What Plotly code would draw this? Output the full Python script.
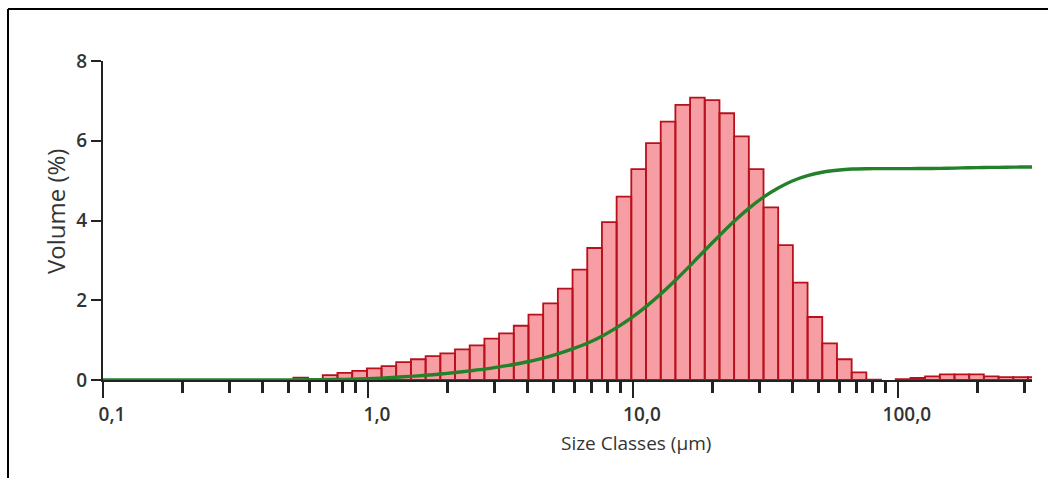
import plotly.graph_objects as go

# Size class edges (µm), log-spaced classes
class_edges = [0.460, 0.523, 0.594, 0.675, 0.767, 0.872, 0.991, 1.125, 1.278, 1.452,
               1.650, 1.875, 2.130, 2.420, 2.750, 3.124, 3.550, 4.034, 4.583, 5.207,
               5.916, 6.722, 7.637, 8.677, 9.858, 11.20, 12.73, 14.46, 16.43, 18.66,
               21.21, 24.09, 27.37, 31.10, 35.33, 40.14, 45.60, 51.82, 58.88, 66.89,
               76.00, 86.35, 98.10, 111.5, 126.6, 143.9, 163.5, 185.8, 211.0, 239.8,
               272.4, 309.6, 351.7]

# Volume (%) in each class (class i spans class_edges[i]..class_edges[i+1])
volume_pct = [0.00, 0.06, 0.02, 0.12, 0.18, 0.23, 0.29, 0.35, 0.45, 0.52,
              0.60, 0.67, 0.77, 0.87, 1.04, 1.17, 1.36, 1.64, 1.92, 2.29,
              2.77, 3.31, 3.96, 4.60, 5.29, 5.94, 6.48, 6.90, 7.08, 7.02,
              6.69, 6.11, 5.29, 4.33, 3.38, 2.44, 1.58, 0.92, 0.52, 0.19,
              0.01, 0.00, 0.02, 0.05, 0.09, 0.14, 0.14, 0.14, 0.09, 0.07,
              0.07, 0.07]

# Cumulative undersize (%) curve, read at sizes
cum_sizes = [0.1, 0.523, 0.594, 0.675, 0.767, 0.872, 0.991, 1.125, 1.278, 1.452,
             1.650, 1.875, 2.130, 2.420, 2.750, 3.124, 3.550, 4.034, 4.583, 5.207,
             5.916, 6.722, 7.637, 8.677, 9.858, 11.20, 12.73, 14.46, 16.43, 18.66,
             21.21, 24.09, 27.37, 31.10, 35.33, 40.14, 45.60, 51.82, 58.88, 66.89,
             76.00, 86.35, 98.10, 111.5, 126.6, 143.9, 163.5, 185.8, 211.0, 239.8,
             272.4, 309.6, 351.7]
cum_pct = [0.0, 0.0, 0.1, 0.1, 0.2, 0.4, 0.6, 0.9, 1.3, 1.7,
           2.2, 2.8, 3.5, 4.3, 5.1, 6.2, 7.3, 8.7, 10.3, 12.3,
           14.6, 17.3, 20.6, 24.6, 29.2, 34.5, 40.4, 46.9, 53.8, 60.9,
           67.9, 74.6, 80.7, 86.0, 90.3, 93.7, 96.1, 97.7, 98.6, 99.2,
           99.35, 99.4, 99.4, 99.4, 99.45, 99.5, 99.65, 99.8, 99.95, 100.0,
           100.1, 100.15, 100.2]

x_tickvals = [0.1, 1, 10, 100]
x_ticktext = ["0,1", "1,0", "10,0", "100,0"]
x_minor = [0.2, 0.3, 0.4, 0.5, 0.6, 0.7, 0.8, 0.9,
           2, 3, 4, 5, 6, 7, 8, 9,
           20, 30, 40, 50, 60, 70, 80, 90, 200, 300]
y_tickvals = [0, 2, 4, 6, 8]

# Build bar rectangles from class edges and values
bx, by = [], []
for i, v in enumerate(volume_pct):
    if v <= 0:
        continue
    lo, hi = class_edges[i], class_edges[i + 1]
    bx += [lo, lo, hi, hi, lo, None]
    by += [0, v, v, 0, 0, None]

fig = go.Figure()
fig.add_trace(go.Scatter(
    x=bx, y=by, mode="lines", fill="toself",
    fillcolor="rgba(245,145,150,0.88)",
    line=dict(color="#b8111b", width=1.8),
    hoverinfo="skip", showlegend=False,
))
fig.add_trace(go.Scatter(
    x=cum_sizes, y=cum_pct, mode="lines", yaxis="y2",
    line=dict(color="#23812a", width=3.4, shape="spline", smoothing=0.6),
    showlegend=False,
))

W, H = 1048, 478
L, R, T, B = 103, 16, 61, 98
pw = W - L - R
ph = H - T - B

def px(xp):
    return (xp - L) / pw

def py(yp):
    return (H - B - yp) / ph

tick_font = dict(family="Open Sans", size=19, color="#333333", weight=600)

fig.update_layout(
    width=W, height=H,
    margin=dict(l=L, r=R, t=T, b=B),
    paper_bgcolor="white", plot_bgcolor="white",
    xaxis=dict(
        type="log", range=[-1, 2.506],
        tickvals=x_tickvals, ticktext=x_ticktext,
        ticks="outside", ticklen=16, tickwidth=2, tickcolor="#222222",
        ticklabelshift=9,
        minor=dict(tickvals=x_minor, ticks="outside", ticklen=11,
                   tickwidth=2.5, tickcolor="#222222", showgrid=False),
        showline=True, linecolor="#222222", linewidth=2, layer="below traces",
        showgrid=False, zeroline=False, tickfont=tick_font,
    ),
    yaxis=dict(
        range=[0, 8], tickvals=y_tickvals,
        ticks="outside", ticklen=10, tickwidth=2, tickcolor="#222222",
        showline=True, linecolor="#222222", linewidth=2,
        showgrid=False, zeroline=False, tickfont=tick_font,
    ),
    yaxis2=dict(range=[0, 150], overlaying="y", visible=False),
    annotations=[
        dict(text="Size Classes (µm)", xref="paper", yref="paper",
             x=px(636), y=py(443), xanchor="center", yanchor="middle",
             showarrow=False, font=dict(family="Open Sans", size=19, color="#333333")),
        dict(text="Volume (%)", xref="paper", yref="paper", textangle=-90,
             x=px(55), y=py(212), xanchor="center", yanchor="middle",
             showarrow=False, font=dict(family="Open Sans", size=24, color="#333333")),
    ],
    shapes=[
        dict(type="line", xref="paper", yref="paper",
             x0=px(8), x1=px(1060), y0=py(9), y1=py(9),
             line=dict(color="black", width=2)),
        dict(type="line", xref="paper", yref="paper",
             x0=px(8), x1=px(8), y0=py(9), y1=py(490),
             line=dict(color="black", width=2)),
    ],
)

fig.write_html("out.html")
